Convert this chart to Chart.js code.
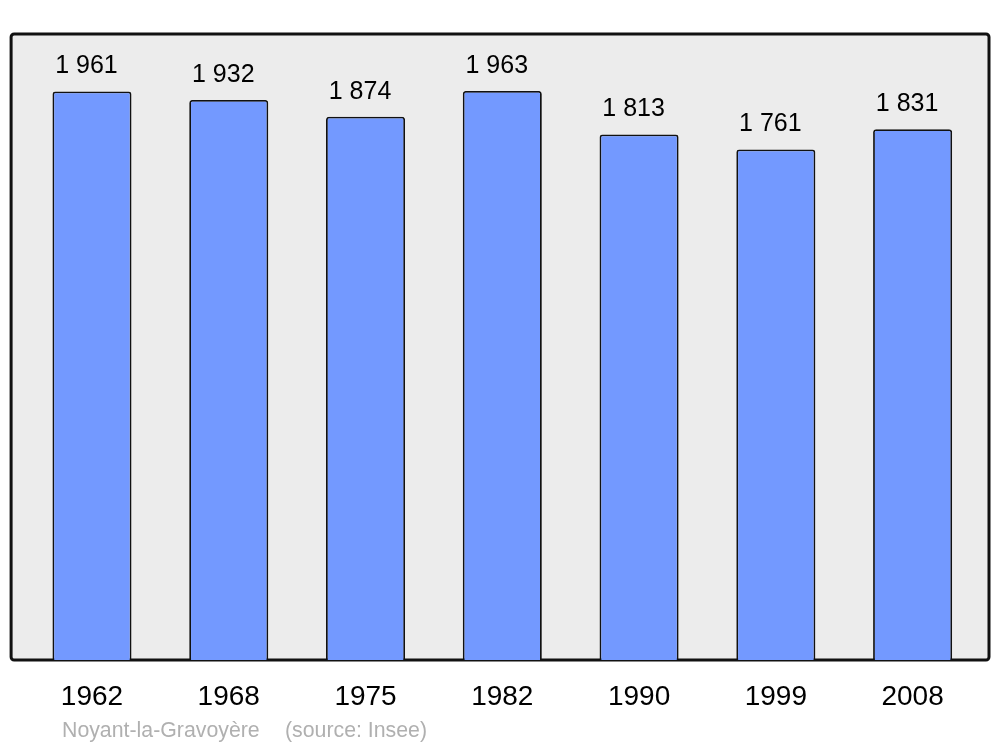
<!DOCTYPE html>
<html>
<head>
<meta charset="utf-8">
<script src="https://cdn.jsdelivr.net/npm/chart.js@4"></script>
<style>
  html, body { margin: 0; padding: 0; background: #fff; }
  #wrap { width: 1000px; height: 747px; }
</style>
</head>
<body>
<div id="wrap"><canvas id="popChart" width="1000" height="747"></canvas></div>
<script>
// population by census year
const years = ['1962', '1968', '1975', '1982', '1990', '1999', '2008'];
const population = [1961, 1932, 1874, 1963, 1813, 1761, 1831];
const valueLabels = ['1 961', '1 932', '1 874', '1 963', '1 813', '1 761', '1 831'];
const townName = 'Noyant-la-Gravoyère';
const sourceText = '(source: Insee)';

// grey frame behind the bars + value labels + footer
const framePlugin = {
    id: 'frame',
    beforeDatasetsDraw(chart) {
        const c = chart.ctx;
        const a = chart.chartArea;
        c.save();
        c.beginPath();
        c.roundRect(a.left - 12.5, a.top, a.right - a.left + 20.5, a.bottom - a.top, 3);
        c.fillStyle = '#ececec';
        c.fill();
        c.lineWidth = 3;
        c.strokeStyle = '#111';
        c.stroke();
        c.restore();
    },
    afterDatasetsDraw(chart) {
        const c = chart.ctx;
        const bars = chart.getDatasetMeta(0).data;
        c.save();
        c.font = '25px "Liberation Sans", Arial, sans-serif';
        c.fillStyle = '#000';
        c.textAlign = 'center';
        c.textBaseline = 'alphabetic';
        bars.forEach((b, i) => {
            c.fillText(valueLabels[i], b.x - 5.5, b.y - 18);
        });
        c.font = '21.3px "Liberation Sans", Arial, sans-serif';
        c.fillStyle = '#b0b0b0';
        c.textAlign = 'left';
        c.fillText(townName, 62, 737);
        c.fillText(sourceText, 285, 737);
        c.restore();
    }
};

const ctx = document.getElementById('popChart');
let chr = new Chart(ctx, {
    type: 'bar',
    data: {
        labels: years,
        datasets: [{
            data: population,
            backgroundColor: '#7399ff',
            borderColor: '#111',
            borderWidth: 1.8,
            borderRadius: { topLeft: 3, topRight: 3 },
            borderSkipped: 'bottom',
            barPercentage: 0.578,
            categoryPercentage: 1
        }]
    },
    options: {
        responsive: false,
        animation: false,
        layout: { padding: { left: 23.6, right: 19, top: 34, bottom: 27 } },
        plugins: {
            legend: { display: false },
            tooltip: { enabled: false }
        },
        scales: {
            x: {
                grid: { display: false, drawTicks: false },
                border: { display: false },
                ticks: {
                    color: '#000',
                    padding: 20,
                    font: { size: 28, family: '"Liberation Sans", Arial, sans-serif' }
                },
                afterFit(scale) { scale.height = 60; }
            },
            y: {
                display: false,
                min: 0,
                max: 2159.3
            }
        }
    },
    plugins: [framePlugin]
});
</script>
</body>
</html>
